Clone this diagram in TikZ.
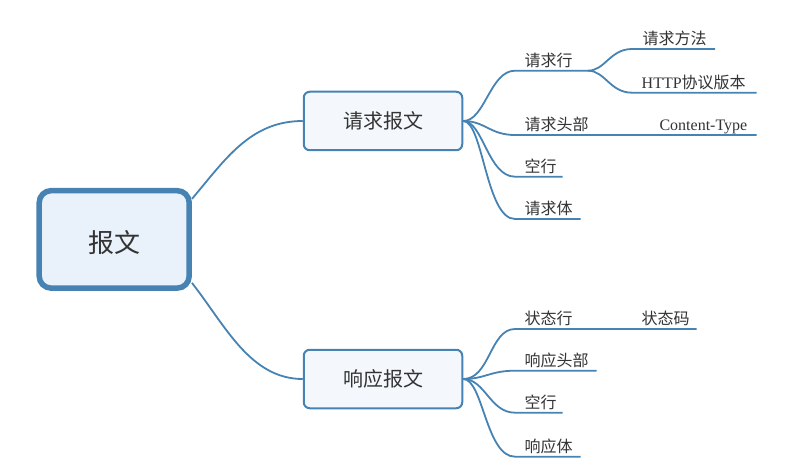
\documentclass[tikz,border=0pt]{standalone}
\usepackage{fontspec}
\setmainfont{Liberation Serif}
\newfontfamily\cjk{Noto Sans CJK SC}
\definecolor{lc}{HTML}{4683B3}
\definecolor{rootfill}{HTML}{E9F1FA}
\definecolor{boxfill}{HTML}{F4F8FC}
\definecolor{tc}{HTML}{333333}
\begin{document}
\begin{tikzpicture}[x=1pt,y=-1pt,
  conn/.style={draw=lc, line width=1.8pt},
  rootbox/.style={draw=lc, fill=rootfill, line width=5.5pt, rounded corners=12pt,
    minimum width=150pt, minimum height=97.5pt, inner sep=0pt, text=tc,
    font=\cjk\fontsize{26}{30}\selectfont},
  mainbox/.style={draw=lc, fill=boxfill, line width=2pt, rounded corners=6pt,
    minimum width=158.5pt, minimum height=58.5pt, inner sep=0pt, text=tc,
    font=\cjk\fontsize{20}{24}\selectfont},
  lbl/.style={anchor=base west, inner sep=0pt, text=tc,
    font=\cjk\fontsize{16}{19}\selectfont},
  lblr/.style={anchor=base east, inner sep=0pt, text=tc,
    font=\fontsize{16}{19}\selectfont}
]
\useasboundingbox (0,0) rectangle (790,476);

% main nodes
\node[rootbox] (root) at (114.2,239.4) {\raisebox{-3pt}[\height][\depth]{报文}};
\node[mainbox] (req) at (383,121) {请求报文};
\node[mainbox] (res) at (383,379) {响应报文};

% root connectors
\draw[conn] ([yshift=-11pt]root.north east) .. controls (225,160) and (250,121) .. (req.west);
\draw[conn] ([yshift=8pt]root.south east) .. controls (225,325) and (250,379) .. (res.west);

% request sub-topic coordinates
\coordinate (rl1) at (515,70.7);   \coordinate (rl2) at (588,70.7);
\coordinate (rh1) at (515,135);    \coordinate (rh2) at (756.7,135);
\coordinate (re1) at (515,176.7);  \coordinate (re2) at (562.7,176.7);
\coordinate (rb1) at (515,219);    \coordinate (rb2) at (580.7,219);
\coordinate (rm1) at (632,49);     \coordinate (rm2) at (715,49);
\coordinate (rv1) at (632,92.7);   \coordinate (rv2) at (756.7,92.7);

\node[lbl] (reqline) at (524.5,66.3) {请求行};
\node[lbl] (reqhead) at (524.5,130.6) {请求头部};
\node[lbl] (reqempty) at (524.5,172.3) {空行};
\node[lbl] (reqbody) at (524.5,214.6) {请求体};
\node[lbl] (reqmeth) at (642.5,44.6) {请求方法};
\node[lbl] (reqver) at (641.5,88.3) {{\rmfamily HTTP}协议版本};
\node[lblr] (ctype) at (747.5,130.3) {Content-Type};

\draw[conn] (req.east) .. controls (485,121) and (490,70.7) .. (rl1) -- (rl2);
\draw[conn] (req.east) .. controls (485,121) and (490,135) .. (rh1) -- (rh2);
\draw[conn] (req.east) .. controls (483,121) and (488,176.7) .. (re1) -- (re2);
\draw[conn] (req.east) .. controls (483,121) and (486,219) .. (rb1) -- (rb2);
\draw[conn] (rl2) .. controls (605,70.7) and (610,49) .. (rm1) -- (rm2);
\draw[conn] (rl2) .. controls (605,70.7) and (610,92.7) .. (rv1) -- (rv2);

% response sub-topic coordinates
\coordinate (sl1) at (515,329);    \coordinate (sl2) at (696.7,329);
\coordinate (sh1) at (515,370.7);  \coordinate (sh2) at (596.7,370.7);
\coordinate (se1) at (515,412.7);  \coordinate (se2) at (562.7,412.7);
\coordinate (sb1) at (515,456.7);  \coordinate (sb2) at (580.7,456.7);

\node[lbl] (resline) at (524.5,324.6) {状态行};
\node[lbl] (rescode) at (641.5,324.6) {状态码};
\node[lbl] (reshead) at (524.5,366.3) {响应头部};
\node[lbl] (resempty) at (524.5,408.3) {空行};
\node[lbl] (resbody) at (524.5,452.3) {响应体};

\draw[conn] (res.east) .. controls (490,379) and (490,329) .. (sl1) -- (sl2);
\draw[conn] (res.east) .. controls (485,379) and (490,370.7) .. (sh1) -- (sh2);
\draw[conn] (res.east) .. controls (485,379) and (490,412.7) .. (se1) -- (se2);
\draw[conn] (res.east) .. controls (483,379) and (486,456.7) .. (sb1) -- (sb2);
\end{tikzpicture}
\end{document}
